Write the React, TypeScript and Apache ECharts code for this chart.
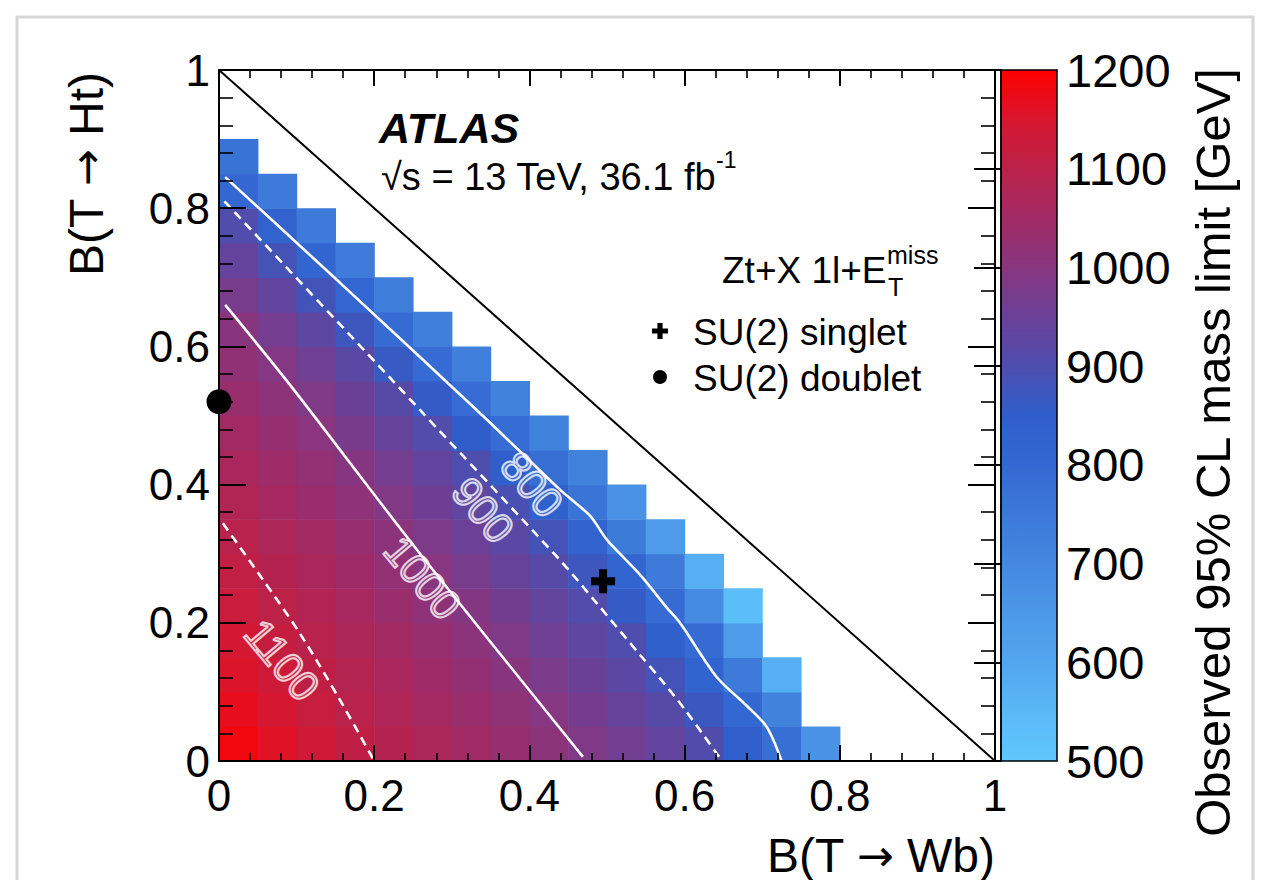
import React, { useEffect, useRef } from "react";
import * as echarts from "echarts";

const FONT = "'Liberation Sans', Arial, Helvetica, sans-serif";
const ARROW_FONT = "'DejaVu Sans', 'Liberation Sans', sans-serif";

// bin width of the B(T→Wb) x B(T→Ht) grid
const binWidth = 0.05;

// Observed 95% CL mass limit [GeV] per bin; row j = B(T→Ht) in [0.05j, 0.05j+0.05],
// columns start at B(T→Wb) = 0 in steps of 0.05
const row00 = [1185, 1159, 1133, 1108, 1087, 1068, 1049, 1029, 1010, 987, 960, 933, 906, 851, 778, 670];
const row01 = [1170, 1145, 1120, 1096, 1076, 1056, 1037, 1017, 996, 968, 941, 914, 869, 806, 720];
const row02 = [1155, 1131, 1107, 1086, 1065, 1045, 1024, 1003, 976, 949, 921, 884, 818, 745, 575];
const row03 = [1140, 1116, 1094, 1073, 1051, 1030, 1009, 984, 957, 929, 901, 842, 790, 640];
const row04 = [1125, 1102, 1081, 1059, 1037, 1016, 993, 965, 937, 908, 859, 790, 690, 530];
const row05 = [1110, 1087, 1066, 1044, 1022, 1001, 972, 943, 914, 872, 815, 745, 575];
const row06 = [1095, 1073, 1051, 1029, 1007, 980, 951, 921, 883, 824, 741, 640];
const row07 = [1080, 1058, 1036, 1014, 989, 958, 928, 894, 835, 763, 670];
const row08 = [1065, 1043, 1021, 998, 966, 934, 902, 843, 782, 720];
const row09 = [1050, 1028, 1005, 974, 941, 907, 849, 785, 720];
const row10 = [1035, 1012, 984, 949, 914, 858, 788, 720];
const row11 = [1020, 994, 956, 919, 863, 791, 725];
const row12 = [1003, 966, 926, 872, 792, 725];
const row13 = [972, 932, 882, 810, 735];
const row14 = [938, 885, 815, 740];
const row15 = [903, 830, 745];
const row16 = [805, 745];
const row17 = [765];
const rows = [row00, row01, row02, row03, row04, row05, row06, row07, row08, row09, row10, row11, row12, row13, row14, row15, row16, row17];

// colour scale 500 .. 1200 GeV
const zMin = 500;
const zMax = 1200;
const palette = [
  "#60c8fc", "#5ab8f6", "#52a6ee", "#4c98e8", "#4488e0", "#3c78d8", "#3468d2", "#2f5ecb",
  "#4e4eae", "#6b4096", "#873680", "#a12a64", "#bb2149", "#d8162e", "#ff0000",
];

// contour lines: [B(T→Wb), B(T→Ht)]
const contour800 = [[0.008, 0.845], [0.156, 0.692], [0.332, 0.508], [0.388, 0.448], [0.44, 0.392], [0.478, 0.355], [0.5, 0.32], [0.543, 0.269], [0.577, 0.222], [0.594, 0.2], [0.641, 0.122], [0.68, 0.08], [0.706, 0.049], [0.725, 0.0]];
const contour900 = [[0.007, 0.81], [0.22, 0.555], [0.259, 0.508], [0.44, 0.29], [0.487, 0.228], [0.543, 0.153], [0.568, 0.12], [0.6, 0.075], [0.645, 0.005]];
const contour1000 = [[0.008, 0.66], [0.091, 0.545], [0.25, 0.313], [0.469, 0.006]];
const contour1100 = [[0.005, 0.344], [0.055, 0.265], [0.104, 0.185], [0.155, 0.09], [0.2, 0.0]];
const contourLabels = [
  { name: "800", value: [0.403, 0.4] },
  { name: "900", value: [0.34, 0.363] },
  { name: "1000", value: [0.262, 0.265] },
  { name: "1100", value: [0.081, 0.146] },
];

const diagonal = [[0, 1], [1, 0]];
const singlet = [[0.495, 0.26]];
const doublet = [[0, 0.52]];

const heatData = rows.flatMap((row, j) => row.map((v, i) => [i * binWidth, j * binWidth, v]));

const tickFmt = (v: number) => String(Number(v.toFixed(2)));
const zFmt = (v: number) => String(Math.round(v));

export default function App() {
  const ref = useRef<HTMLDivElement>(null);
  useEffect(() => {
    if (!ref.current) return;
    const chart = echarts.init(ref.current, undefined, { renderer: "svg" });

    const mainAxisCommon = {
      type: "value",
      min: 0,
      max: 1,
      interval: 0.2,
      gridIndex: 0,
      z: 10,
      splitLine: { show: false },
      minorSplitLine: { show: false },
      axisLine: { show: true, onZero: false, lineStyle: { color: "#000", width: 2 } },
    };
    const xTicks = {
      axisTick: { show: true, inside: true, length: 16, lineStyle: { color: "#000", width: 2 } },
      minorTick: { show: true, splitNumber: 5, length: 8, lineStyle: { color: "#000", width: 1.6 } },
    };
    const yTicks = {
      axisTick: { show: true, inside: true, length: 27, lineStyle: { color: "#000", width: 2 } },
      minorTick: { show: true, splitNumber: 5, length: 14, lineStyle: { color: "#000", width: 1.6 } },
    };
    const labelStyle = { color: "#000", fontFamily: FONT, fontSize: 44 };

    const stops = palette.map((c, k) => ({ offset: 1 - k / (palette.length - 1), color: c })).sort((a, b) => a.offset - b.offset);

    const whiteLine = (data: number[][], dashed: boolean) => ({
      type: "line",
      data,
      xAxisIndex: 0,
      yAxisIndex: 0,
      showSymbol: false,
      symbol: "none",
      smooth: 0.3,
      z: 4,
      silent: true,
      lineStyle: { color: "#fff", width: 2.6, type: dashed ? [9, 6] : "solid" },
    });

    const plusPts = (cx: number, cy: number, a: number, t: number) => [
      [cx - t, cy - a], [cx + t, cy - a], [cx + t, cy - t], [cx + a, cy - t], [cx + a, cy + t], [cx + t, cy + t],
      [cx + t, cy + a], [cx - t, cy + a], [cx - t, cy + t], [cx - a, cy + t], [cx - a, cy - t], [cx - t, cy - t],
    ];

    const titleRich = {
      t: { fontFamily: FONT, fontSize: 48, fill: "#000", color: "#000" },
      a: { fontFamily: ARROW_FONT, fontSize: 44, fill: "#000", color: "#000" },
    };

    chart.setOption({
      animation: false,
      backgroundColor: "#fff",
      grid: [
        { left: 219, top: 70, width: 776, height: 691 },
        { left: 1001, top: 70, width: 56, height: 691 },
      ],
      xAxis: [
        { ...mainAxisCommon, ...xTicks, position: "bottom", axisLabel: { ...labelStyle, margin: 12, formatter: tickFmt } },
        { ...mainAxisCommon, ...xTicks, position: "top", axisLabel: { show: false } },
        { type: "value", gridIndex: 1, min: 0, max: 1, show: false },
      ],
      yAxis: [
        { ...mainAxisCommon, ...yTicks, position: "left", axisLabel: { ...labelStyle, margin: 9, formatter: tickFmt } },
        { ...mainAxisCommon, ...yTicks, position: "right", axisLabel: { show: false } },
        {
          type: "value",
          gridIndex: 1,
          min: zMin,
          max: zMax,
          interval: 100,
          position: "right",
          z: 10,
          splitLine: { show: false },
          axisLine: { show: true, lineStyle: { color: "#000", width: 1.5 } },
          axisTick: { show: true, inside: true, length: 27, lineStyle: { color: "#000", width: 2 } },
          axisLabel: { color: "#000", fontFamily: FONT, fontSize: 47, margin: 9, formatter: zFmt },
        },
      ],
      visualMap: {
        type: "continuous",
        show: false,
        min: zMin,
        max: zMax,
        dimension: 2,
        seriesIndex: 0,
        inRange: { color: palette },
      },
      series: [
        {
          type: "custom",
          name: "limit",
          xAxisIndex: 0,
          yAxisIndex: 0,
          data: heatData,
          encode: { x: 0, y: 1 },
          z: 1,
          silent: true,
          renderItem: (params: any, api: any) => {
            const x = api.value(0);
            const y = api.value(1);
            const p0 = api.coord([x, y + binWidth]);
            const p1 = api.coord([x + binWidth, y]);
            return {
              type: "rect",
              shape: { x: p0[0], y: p0[1], width: p1[0] - p0[0] + 0.6, height: p1[1] - p0[1] + 0.6 },
              style: { fill: api.visual("color") },
            };
          },
        },
        {
          type: "line",
          data: diagonal,
          xAxisIndex: 0,
          yAxisIndex: 0,
          symbol: "none",
          z: 3,
          silent: true,
          lineStyle: { color: "#000", width: 2 },
        },
        whiteLine(contour800, false),
        whiteLine(contour900, true),
        whiteLine(contour1000, false),
        whiteLine(contour1100, true),
        {
          type: "scatter",
          data: contourLabels,
          xAxisIndex: 0,
          yAxisIndex: 0,
          symbolSize: 0,
          z: 5,
          silent: true,
          label: {
            show: true,
            position: "inside",
            formatter: "{b}",
            rotate: -50,
            fontFamily: FONT,
            fontSize: 42,
            color: "rgba(255,255,255,0.12)",
            textBorderColor: "#fff",
            textBorderWidth: 2,
          },
        },
        {
          type: "scatter",
          name: "SU(2) singlet",
          data: singlet,
          xAxisIndex: 0,
          yAxisIndex: 0,
          symbol: "path://M8,0H16V8H24V16H16V24H8V16H0V8H8Z",
          symbolSize: 24,
          itemStyle: { color: "#000", opacity: 1 },
          clip: false,
          z: 6,
        },
        {
          type: "scatter",
          name: "SU(2) doublet",
          data: doublet,
          xAxisIndex: 0,
          yAxisIndex: 0,
          symbol: "circle",
          symbolSize: 25,
          itemStyle: { color: "#000", opacity: 1 },
          clip: false,
          z: 12,
        },
        {
          type: "custom",
          name: "colorbar",
          xAxisIndex: 2,
          yAxisIndex: 2,
          data: [[0, zMin]],
          silent: true,
          renderItem: (params: any, api: any) => {
            const p0 = api.coord([0, zMax]);
            const p1 = api.coord([1, zMin]);
            return {
              type: "rect",
              shape: { x: p0[0], y: p0[1], width: p1[0] - p0[0], height: p1[1] - p0[1] },
              style: {
                fill: new echarts.graphic.LinearGradient(0, 0, 0, 1, stops),
                stroke: "#000",
                lineWidth: 1.5,
              },
            };
          },
        },
      ],
      graphic: [
        {
          type: "rect",
          z: -10,
          silent: true,
          shape: { x: 17, y: 17, width: 1236, height: 900 },
          style: { fill: "none", stroke: "#d6d6d6", lineWidth: 3 },
        },
        {
          type: "text", z: 100, x: 379, y: 128,
          style: { text: "ATLAS", fontFamily: FONT, fontSize: 43, fontWeight: "bold", fontStyle: "italic", fill: "#000", align: "left", verticalAlign: "middle" },
        },
        {
          type: "text", z: 100, x: 381, y: 177,
          style: { text: "√s = 13 TeV, 36.1 fb", fontFamily: FONT, fontSize: 38, fill: "#000", align: "left", verticalAlign: "middle" },
        },
        {
          type: "text", z: 100, x: 716, y: 160,
          style: { text: "-1", fontFamily: FONT, fontSize: 23, fill: "#000", align: "left", verticalAlign: "middle" },
        },
        {
          type: "text", z: 100, x: 722, y: 270,
          style: { text: "Zt+X 1l+E", fontFamily: FONT, fontSize: 37, fill: "#000", align: "left", verticalAlign: "middle" },
        },
        {
          type: "text", z: 100, x: 887, y: 255,
          style: { text: "miss", fontFamily: FONT, fontSize: 25, fill: "#000", align: "left", verticalAlign: "middle" },
        },
        {
          type: "text", z: 100, x: 888, y: 287,
          style: { text: "T", fontFamily: FONT, fontSize: 25, fill: "#000", align: "left", verticalAlign: "middle" },
        },
        { type: "polygon", z: 100, shape: { points: plusPts(660, 331, 8, 2.6) }, style: { fill: "#000" } },
        {
          type: "text", z: 100, x: 693, y: 332,
          style: { text: "SU(2) singlet", fontFamily: FONT, fontSize: 37, fill: "#000", align: "left", verticalAlign: "middle" },
        },
        { type: "circle", z: 100, shape: { cx: 660, cy: 377, r: 7 }, style: { fill: "#000" } },
        {
          type: "text", z: 100, x: 693, y: 378,
          style: { text: "SU(2) doublet", fontFamily: FONT, fontSize: 37, fill: "#000", align: "left", verticalAlign: "middle" },
        },
        {
          type: "text", z: 100, x: 995, y: 855,
          style: { text: "{t|B(T }{a|→}{t| Wb)}", rich: titleRich, fontFamily: FONT, fontSize: 48, fill: "#000", align: "right", verticalAlign: "middle" },
        },
        {
          type: "text", z: 100, x: 86, y: 72, rotation: Math.PI / 2,
          style: { text: "{t|B(T }{a|→}{t| Ht)}", rich: titleRich, fontFamily: FONT, fontSize: 48, fill: "#000", align: "right", verticalAlign: "middle" },
        },
        {
          type: "text", z: 100, x: 1213, y: 68, rotation: Math.PI / 2,
          style: { text: "Observed 95% CL mass limit [GeV]", fontFamily: FONT, fontSize: 49, fill: "#000", align: "right", verticalAlign: "middle" },
        },
      ],
    });
    return () => chart.dispose();
  }, []);

  return (
    <div
      ref={ref}
      style={{ position: "fixed", left: 0, top: 0, width: 1261, height: 880, background: "#fff" }}
    />
  );
}
